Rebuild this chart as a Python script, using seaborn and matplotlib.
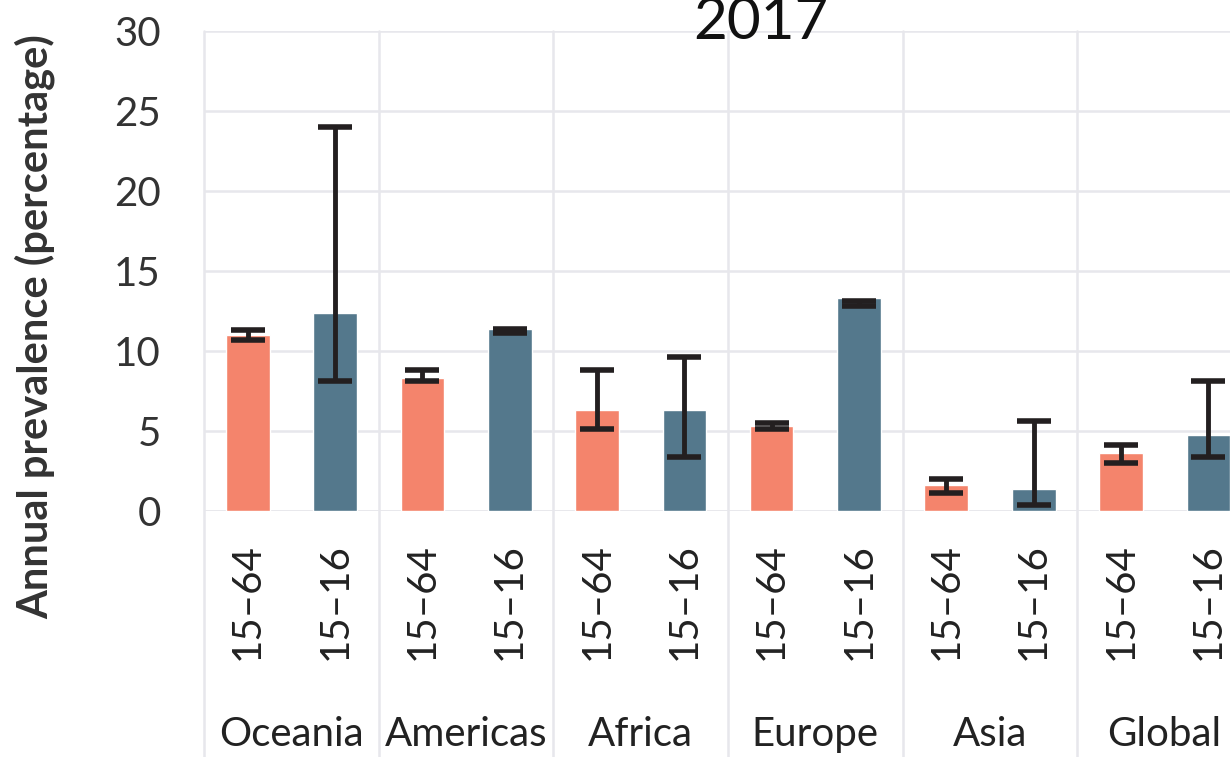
import numpy as np
import pandas as pd
import matplotlib
matplotlib.use('Agg')
import matplotlib.pyplot as plt
import matplotlib.transforms as mtransforms
import seaborn as sns

# Werte
regions = ['Oceania', 'Americas', 'Africa', 'Europe', 'Asia', 'Global']
ages = ['15–64', '15–16']
value_1564 = [11.0, 8.3, 6.3, 5.3, 1.6, 3.6]
value_1516 = [12.4, 11.4, 6.3, 13.3, 1.4, 4.75]
low_1564 = [10.7, 8.1, 5.1, 5.1, 1.1, 3.0]
high_1564 = [11.3, 8.8, 8.8, 5.5, 2.0, 4.1]
low_1516 = [8.1, 11.1, 3.4, 12.8, 0.4, 3.4]
high_1516 = [24.0, 11.4, 9.6, 13.1, 5.6, 8.1]

year_title = '2017'
y_label = 'Annual prevalence (percentage)'

rows = []
for i, reg in enumerate(regions):
    rows.append((reg, ages[0], value_1564[i], low_1564[i], high_1564[i]))
    rows.append((reg, ages[1], value_1516[i], low_1516[i], high_1516[i]))
df = pd.DataFrame(rows, columns=['region', 'age', 'value', 'low', 'high'])
df['slot'] = df['region'] + ' ' + df['age']

sns.set_style('white')
plt.rcParams['font.family'] = ['Lato', 'DejaVu Sans']

W, H = 1230, 757
fig = plt.figure(figsize=(W / 100, H / 100), dpi=100)
ax_left, ax_right, ax_top, ax_bottom = 204, 1252, 31, 511
ax = fig.add_axes([ax_left / W, 1 - ax_bottom / H,
                   (ax_right - ax_left) / W, (ax_bottom - ax_top) / H])

palette = {'15–64': '#F4846C', '15–16': '#54788C'}
sns.barplot(data=df, x='slot', y='value', hue='age', palette=palette,
            dodge=False, width=0.5, legend=False, saturation=1,
            order=list(df['slot']), ax=ax)

pos = np.arange(len(df))
mid = (df['low'] + df['high']) / 2
half = (df['high'] - df['low']) / 2
ax.errorbar(pos, mid, yerr=half, fmt='none', ecolor='#231F20',
            elinewidth=3.5, capsize=12, capthick=4, zorder=5)

grid_col = '#e7e7ec'
ax.set_ylim(0, 30)
ax.set_xlim(-0.5, len(df) - 0.5)
ax.set_yticks(range(0, 31, 5))
ax.yaxis.grid(True, color=grid_col, lw=1.8)
ax.set_axisbelow(True)
for s in ax.spines.values():
    s.set_visible(False)

# Trennlinien zwischen Regionen
for b in np.arange(-0.5, len(df), 2):
    ax.axvline(b, ymin=-0.52, ymax=1, color=grid_col, lw=1.8, clip_on=False, zorder=0)
ax.axhline(0, color=grid_col, lw=1.8, zorder=0)

ax.set_xticks(pos)
ax.set_xticklabels(df['age'], rotation=90, fontsize=29, color='#222222')
ax.tick_params(axis='x', length=0, pad=23)
ax.tick_params(axis='y', length=0, pad=31, labelsize=29, labelcolor='#333333')
ax.set_xlabel('')
ax.set_ylabel('')

trans = mtransforms.blended_transform_factory(ax.transData, ax.transAxes)
for i, reg in enumerate(regions):
    ax.text(2 * i + 0.5, -0.49, reg, transform=trans, ha='center', va='baseline',
            fontsize=29, color='#222222', clip_on=False)

fig.text(35 / W, 1 - 327 / H, y_label, rotation=90, ha='center', va='center',
         fontsize=30, fontweight='bold', color='#333333')
fig.text(761 / W, 1 - 39 / H, year_title, ha='center', va='baseline',
         fontsize=42, fontweight='normal', color='#111111')

fig.savefig('out.png', dpi=100)
